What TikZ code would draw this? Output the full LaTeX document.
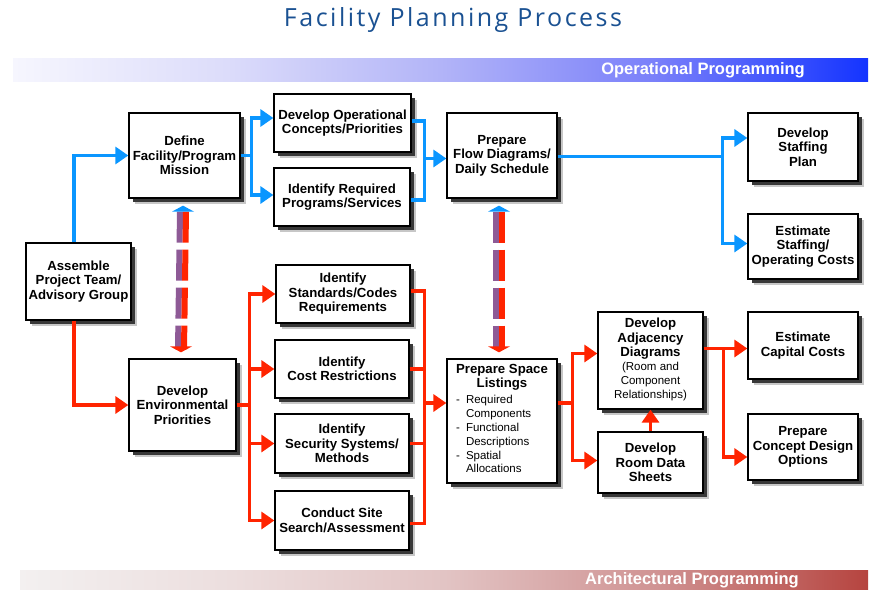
\documentclass[tikz,border=0pt]{standalone}
\usepackage{fontspec}
\setmainfont{Liberation Sans}
\newfontfamily\titlefont[LetterSpace=10]{Open Sans}
\usetikzlibrary{arrows.meta,shadows,calc}
\definecolor{ablue}{HTML}{0A96FF}
\definecolor{ared}{HTML}{FF2400}
\definecolor{apurple}{HTML}{8E5A96}
\definecolor{ttl}{HTML}{1A5192}
\definecolor{ob1}{HTML}{F6F6FE}
\definecolor{ob2}{HTML}{DCDCFA}
\definecolor{ob3}{HTML}{B2B4F8}
\definecolor{ob4}{HTML}{7A80FA}
\definecolor{ob5}{HTML}{1434FF}
\definecolor{rb1}{HTML}{F3F0F0}
\definecolor{rb2}{HTML}{ECDEDE}
\definecolor{rb3}{HTML}{E2C4C4}
\definecolor{rb4}{HTML}{D09393}
\definecolor{rb5}{HTML}{B6443F}
\pgfdeclarehorizontalshading{opbar}{100bp}{color(0bp)=(ob1); color(25bp)=(ob1); color(37.5bp)=(ob2); color(50bp)=(ob3); color(62.5bp)=(ob4); color(75bp)=(ob5); color(100bp)=(ob5)}
\pgfdeclarehorizontalshading{arbar}{100bp}{color(0bp)=(rb1); color(25bp)=(rb1); color(37.5bp)=(rb2); color(50bp)=(rb3); color(62.5bp)=(rb4); color(75bp)=(rb5); color(100bp)=(rb5)}
\tikzset{
  box/.style={draw=black, line width=1.3pt, fill=white, inner sep=1pt, align=center,
    font=\bfseries\fontsize{13.2}{14.5}\selectfont,
    drop shadow={shadow xshift=6pt, shadow yshift=-6pt, fill=black!22, opacity=1},
    drop shadow={shadow xshift=3.5pt, shadow yshift=-3.5pt, fill=black!78, opacity=1}},
  bline/.style={draw=ablue, line width=3.5pt},
  bconn/.style={bline, -{Triangle[length=13pt,width=17pt]}},
  rline/.style={draw=ared, line width=3.5pt},
  rconn/.style={rline, -{Triangle[length=13pt,width=17pt]}},
  bartext/.style={text=white, font=\bfseries\fontsize{16.5}{18}\selectfont, inner sep=0pt}
}
\begin{document}
\begin{tikzpicture}[x=1pt,y=-1pt]
\useasboundingbox (0,0) rectangle (875,589);
% title and bars
\node[font=\titlefont\fontsize{25}{28}\selectfont, text=ttl] (title) at (453,20) {Facility Planning Process};
\fill[shading=opbar] (13,58) rectangle (868,81);
\node[bartext, anchor=east] (opl) at (805,70) {Operational Programming};
\fill[shading=arbar] (20,570) rectangle (868,589);
\node[bartext, anchor=east] (arl) at (799,580) {Architectural Programming};
% boxes
\node[box, minimum width=105pt, minimum height=77pt] (asm) at (78.5,281.5) {Assemble\\Project Team/\\Advisory Group};
\node[box, minimum width=111pt, minimum height=85pt] (def) at (184.5,155.5) {Define\\Facility/Program\\Mission};
\node[box, minimum width=137pt, minimum height=58pt] (dop) at (342.5,123) {Develop Operational\\Concepts/Priorities};
\node[box, minimum width=136pt, minimum height=58pt] (irp) at (342,197) {Identify Required\\Programs/Services};
\node[box, minimum width=110pt, minimum height=85pt] (pfd) at (502,155.5) {Prepare\\Flow Diagrams/\\Daily Schedule};
\node[box, minimum width=110pt, minimum height=68pt] (dsp) at (803,147) {Develop\\Staffing\\Plan};
\node[box, minimum width=110pt, minimum height=65pt] (eso) at (803,246.5) {Estimate\\Staffing/\\Operating Costs};
\node[box, minimum width=134pt, minimum height=58pt] (isc) at (343,294) {Identify\\Standards/Codes\\Requirements};
\node[box, minimum width=134pt, minimum height=58pt] (icr) at (342,369) {Identify\\Cost Restrictions};
\node[box, minimum width=134pt, minimum height=59pt] (iss) at (342,443.5) {Identify\\Security Systems/\\Methods};
\node[box, minimum width=134pt, minimum height=59pt] (css) at (342,520.5) {Conduct Site\\Search/Assessment};
\node[box, minimum width=107pt, minimum height=92pt] (dep) at (182.5,405) {Develop\\Environmental\\Priorities};
\node[box, minimum width=110pt, minimum height=124pt] (psl) at (502,421) {};
\node[font=\bfseries\fontsize{13.2}{14.5}\selectfont, align=center, inner sep=0pt, anchor=north] (pslh) at (502,364) {Prepare Space\\Listings};
\node[font=\fontsize{11.5}{13.8}\selectfont, inner sep=0pt, anchor=north west] (psll) at (456,394)
  {\begin{tabular}{@{}l@{\hspace{6pt}}l@{}}-&Required\\&Components\\-&Functional\\&Descriptions\\-&Spatial\\&Allocations\end{tabular}};
\node[box, minimum width=105pt, minimum height=97pt] (dad) at (650.5,360.5) {Develop\\Adjacency\\Diagrams\\{\mdseries\fontsize{11.5}{14}\selectfont\begin{tabular}{@{}c@{}}(Room and\\Component\\Relationships)\end{tabular}}};
\node[box, minimum width=105pt, minimum height=61pt] (drd) at (650.5,462.5) {Develop\\Room Data\\Sheets};
\node[box, minimum width=110pt, minimum height=67pt] (ecc) at (803,345.5) {Estimate\\Capital Costs};
\node[box, minimum width=110pt, minimum height=66pt] (pcd) at (803,447) {Prepare\\Concept Design\\Options};
% blue connectors
\draw[bconn] ([xshift=-4.5pt]asm.north) |- (def.west);
\coordinate (jb1) at ($(def.east)+(11,0)$);
\draw[bline] (def.east) -- (jb1);
\draw[bconn] (jb1) |- ([yshift=5pt]dop.west);
\draw[bconn] (jb1) |- ([yshift=2pt]irp.west);
\coordinate (jb2) at ($(dop.east)+(13,2)$);
\coordinate (irpo) at ($(irp.east)+(0,3)$);
\draw[bline] ($(dop.east)+(0,-2)$) -| (jb2 |- irpo) -- (irpo);
\coordinate (pin1) at ($(pfd.west)+(0,3)$);
\draw[bconn] (jb2 |- pin1) -- (pin1);
\coordinate (pout) at ($(pfd.east)+(0,1)$);
\coordinate (jb3) at ($(dsp.west)+(-25,0)$);
\coordinate (din1) at ($(dsp.west)+(0,-9)$);
\coordinate (ein1) at ($(eso.west)+(0,-3)$);
\draw[bline] (pout) -- (jb3 |- pout);
\draw[bconn] (jb3 |- pout) |- (din1);
\draw[bconn] (jb3 |- pout) |- (ein1);
% red connectors
\draw[rconn] ([xshift=-4.5pt]asm.south) |- (dep.west);
\coordinate (jr1) at ($(dep.east)+(13,0)$);
\draw[rline] (dep.east) -- (jr1);
\foreach \n in {isc,icr,iss,css} \draw[rconn] (jr1) |- (\n.west);
\coordinate (jr2) at ($(isc.east)+(14,-3)$);
\coordinate (csso) at ($(css.east)+(0,3)$);
\draw[rline] ($(isc.east)+(0,-3)$) -| (jr2 |- csso) -- (csso);
\draw[rline] (icr.east) -- (jr2 |- icr.east);
\draw[rline] (iss.east) -- (jr2 |- iss.east);
\coordinate (pin2) at ($(psl.west)+(0,-18)$);
\draw[rconn] (jr2 |- pin2) -- (pin2);
\coordinate (pout2) at ($(psl.east)+(0,-18)$);
\coordinate (jr3) at ($(pout2)+(15,0)$);
\draw[rline] (pout2) -- (jr3);
\draw[rconn] (jr3) |- ($(dad.west)+(0,-7)$);
\draw[rconn] (jr3) |- ($(drd.west)+(0,-2)$);
\draw[rconn] (drd.north) -- (dad.south);
\coordinate (aout) at ($(dad.east)+(0,-12)$);
\coordinate (jr4) at ($(aout)+(20,0)$);
\draw[rconn] (aout) -- (aout -| ecc.west);
\draw[rconn] (jr4) |- ($(pcd.west)+(0,10)$);
% dashed double arrows
\foreach \a/\b/\dx in {def/dep/-1.5, pfd/psl/-3}{
  \draw[draw=apurple, line width=6pt, dash pattern=on 31pt off 7pt]
    ($(\a.south)+(\dx-3,13)$) -- ($(\b.north)+(\dx-3,-9)$);
  \draw[draw=ared, line width=6pt, dash pattern=on 31pt off 7pt]
    ($(\a.south)+(\dx+3,13)$) -- ($(\b.north)+(\dx+3,-9)$);
  \fill[ablue] ($(\a.south)+(\dx,7)$) -- ++(11,6) -- ++(-22,0) -- cycle;
  \fill[ared] ($(\b.north)+(\dx,-6)$) -- ++(11,-6) -- ++(-22,0) -- cycle;
}
\end{tikzpicture}
\end{document}
